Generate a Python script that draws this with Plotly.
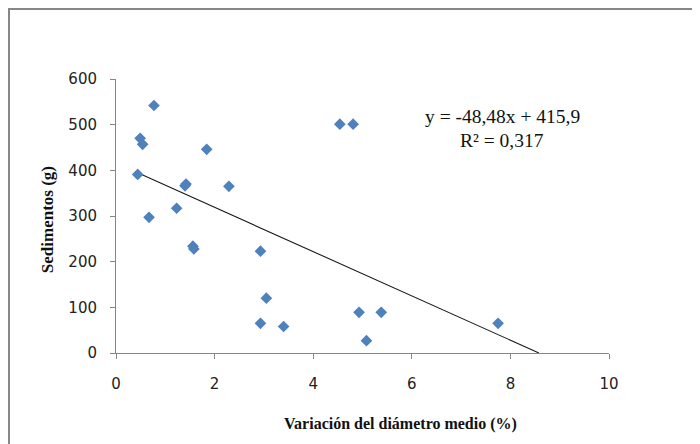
import plotly.graph_objects as go

# Data
variacion = [0.44, 0.49, 0.54, 0.77, 0.67, 1.23, 1.40, 1.42, 1.84, 2.29, 1.56, 1.58,
             2.93, 3.05, 2.93, 3.40, 4.54, 4.81, 4.93, 5.38, 5.08, 7.75]
sedimentos = [391, 470, 457, 542, 297, 317, 366, 370, 446, 365, 234, 228,
              223, 120, 65, 58, 501, 501, 89, 89, 27, 65]

slope = -48.48
intercept = 415.9
r2_text = "0,317"
eq_text = "y = -48,48x + 415,9"

x_ticks = [0, 2, 4, 6, 8, 10]
y_ticks = [0, 100, 200, 300, 400, 500, 600]

# Trendline endpoints from the equation (Excel clips at y=0)
tx = [min(variacion), -intercept / slope]
ty = [slope * v + intercept for v in tx]

# page offset of the figure (body margin)
OFF = 8
L, T = 116 - OFF, 79 - OFF
PW, PH = 493, 273.7
W, H = 700, 444


def px(xp):
    return (xp - OFF - L) / PW


def py(yp):
    return (T + PH - (yp - OFF)) / PH


fig = go.Figure()
fig.add_trace(go.Scatter(
    x=tx, y=ty, mode="lines",
    line=dict(color="#1a1a1a", width=1.1),
    hoverinfo="skip", showlegend=False,
))
fig.add_trace(go.Scatter(
    x=variacion, y=sedimentos, mode="markers",
    marker=dict(symbol="diamond", size=9, color="#4F81BD"),
    showlegend=False,
))

axis_common = dict(
    showgrid=False, zeroline=False, showline=True,
    linecolor="#868686", linewidth=1,
    ticks="outside", ticklen=5, tickcolor="#868686", tickwidth=1,
    tickfont=dict(family="DejaVu Sans", size=15, color="#222222"),
)

fig.update_layout(
    width=W, height=H,
    margin=dict(l=L, r=W - L - PW, t=T, b=H - T - PH, pad=0),
    paper_bgcolor="white", plot_bgcolor="white",
    xaxis=dict(range=[0, 10], tickvals=x_ticks, ticklabelstandoff=12, **axis_common),
    yaxis=dict(range=[0, 600], tickvals=y_ticks, ticklabelstandoff=10, **axis_common),
    annotations=[
        dict(text="Variación del diámetro medio (%)", xref="paper", yref="paper",
             x=px(400), y=py(424), showarrow=False,
             xanchor="center", yanchor="middle",
             font=dict(family="Liberation Serif", size=16, color="#111111", weight="bold")),
        dict(text="Sedimentos (g)", xref="paper", yref="paper",
             x=px(47), y=py(220), showarrow=False,
             xanchor="center", yanchor="middle", textangle=-90,
             font=dict(family="Liberation Serif", size=17, color="#111111", weight="bold")),
        dict(text=eq_text, xref="paper", yref="paper",
             x=px(502), y=py(116), showarrow=False,
             xanchor="center", yanchor="middle",
             font=dict(family="Liberation Serif", size=19.5, color="#111111")),
        dict(text="R² = " + r2_text, xref="paper", yref="paper",
             x=px(502), y=py(140), showarrow=False,
             xanchor="center", yanchor="middle",
             font=dict(family="Liberation Serif", size=19.5, color="#111111")),
    ],
    shapes=[
        dict(type="line", xref="paper", yref="paper",
             x0=px(9), x1=px(9), y0=py(8), y1=py(470),
             line=dict(color="#878787", width=2)),
        dict(type="line", xref="paper", yref="paper",
             x0=px(8), x1=px(720), y0=py(9), y1=py(9),
             line=dict(color="#878787", width=2)),
    ],
)

fig.write_html("out.html")
